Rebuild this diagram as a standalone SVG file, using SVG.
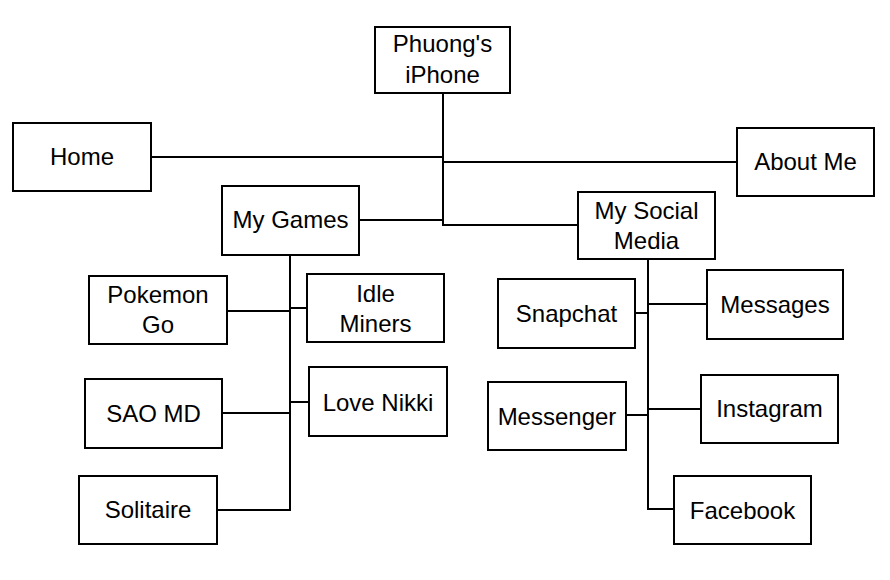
<svg xmlns="http://www.w3.org/2000/svg" width="890" height="580" viewBox="0 0 890 580">
<style>
.box{fill:#fff;stroke:#000;stroke-width:2}
.lbl{font-family:"Liberation Sans",Arial,sans-serif;font-size:24px;fill:#000;text-anchor:middle}
.con{fill:none;stroke:#000;stroke-width:2}
</style>
<rect width="890" height="580" fill="#fff"/>
<g id="connectors" class="con">
<path d="M443 93 V225 H578"/>
<path d="M151 157 H443"/>
<path d="M443 162 H737"/>
<path d="M359 220 H443"/>
<path d="M290 255 V510 H217"/>
<path d="M227 311 H290"/>
<path d="M290 308 H307"/>
<path d="M222 413 H290"/>
<path d="M290 402 H309"/>
<path d="M648 259 V509 H674"/>
<path d="M635 313 H648"/>
<path d="M648 304 H707"/>
<path d="M626 415 H648"/>
<path d="M648 409 H701"/>
</g>
<g id="phuong"><rect class="box" x="375" y="27" width="135" height="66"/><text class="lbl" x="442.5" y="52">Phuong's</text><text class="lbl" x="442.5" y="83">iPhone</text></g>
<g id="home"><rect class="box" x="13" y="123" width="138" height="68"/><text class="lbl" x="82" y="165">Home</text></g>
<g id="about"><rect class="box" x="737" y="128" width="137" height="68"/><text class="lbl" x="805.5" y="170">About Me</text></g>
<g id="games"><rect class="box" x="222" y="186" width="137" height="69"/><text class="lbl" x="290.5" y="228">My Games</text></g>
<g id="social"><rect class="box" x="578" y="192" width="137" height="67"/><text class="lbl" x="646.5" y="219">My Social</text><text class="lbl" x="646.5" y="249">Media</text></g>
<g id="pokemon"><rect class="box" x="89" y="276" width="138" height="68"/><text class="lbl" x="158" y="303">Pokemon</text><text class="lbl" x="158" y="333">Go</text></g>
<g id="idle"><rect class="box" x="307" y="274" width="137" height="68"/><text class="lbl" x="375.5" y="302">Idle</text><text class="lbl" x="375.5" y="332">Miners</text></g>
<g id="sao"><rect class="box" x="85" y="379" width="137" height="69"/><text class="lbl" x="153.5" y="422">SAO MD</text></g>
<g id="nikki"><rect class="box" x="309" y="367" width="138" height="69"/><text class="lbl" x="378" y="411">Love Nikki</text></g>
<g id="solitaire"><rect class="box" x="79" y="476" width="138" height="68"/><text class="lbl" x="148" y="518">Solitaire</text></g>
<g id="snapchat"><rect class="box" x="498" y="279" width="137" height="69"/><text class="lbl" x="566.5" y="322">Snapchat</text></g>
<g id="messages"><rect class="box" x="707" y="270" width="136" height="69"/><text class="lbl" x="775" y="313">Messages</text></g>
<g id="messenger"><rect class="box" x="488" y="382" width="138" height="68"/><text class="lbl" x="557" y="425">Messenger</text></g>
<g id="instagram"><rect class="box" x="701" y="375" width="137" height="68"/><text class="lbl" x="769.5" y="417">Instagram</text></g>
<g id="facebook"><rect class="box" x="674" y="476" width="137" height="68"/><text class="lbl" x="742.5" y="519">Facebook</text></g>
</svg>
